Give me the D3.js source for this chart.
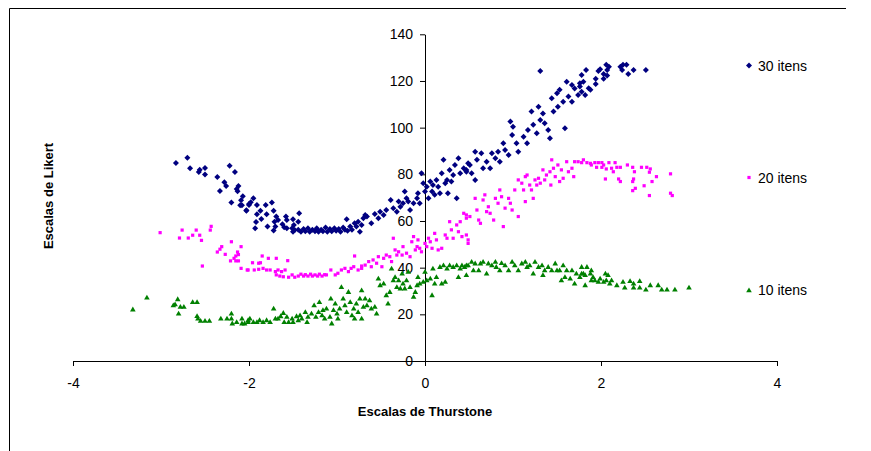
<!DOCTYPE html>
<html>
<head>
<meta charset="utf-8">
<script src="https://cdn.jsdelivr.net/npm/d3@7"></script>
<style>
  body { margin: 0; background: #fff; }
  svg { font-family: "Liberation Sans", Arial, sans-serif; }
</style>
</head>
<body>
<div id="chart"></div>
<script>
// values: [Thurstone, Likert]
const seriesNames = ["30 itens", "20 itens", "10 itens"]
const xTicks = [-4, -2, 0, 2, 4]
const yTicks = [0, 20, 40, 60, 80, 100, 120, 140]

const thirtyItens = [
  [-2.83,84.9],[-2.70,87.1],[-2.67,82.6],[-2.57,81.0],[-2.56,82.0],[-2.50,82.7],[-2.50,79.9],[-2.36,78.9],
  [-2.22,83.7],[-2.16,81.0],[-2.28,76.6],[-2.26,75.0],[-2.33,72.9],[-2.14,73.7],[-2.12,75.0],[-2.13,72.7],
  [-2.07,70.6],[-2.09,68.9],[-2.20,67.9],[-2.10,66.7],[-2.08,66.7],[-2.00,66.9],[-2.03,64.6],
  [-1.95,69.7],[-1.98,68.0],[-2.00,67.3],[-2.03,64.4],[-1.91,66.9],[-1.81,66.9],[-1.74,67.9],[-1.87,64.4],
  [-1.91,62.9],[-1.80,62.9],[-1.86,60.9],[-1.92,59.6],[-1.93,56.9],[-1.79,57.6],[-1.72,64.4],[-1.69,61.9],
  [-1.71,59.7],[-1.67,60.4],[-1.70,57.6],[-1.72,55.9],[-1.62,58.6],[-1.58,61.9],[-1.57,60.4],[-1.60,57.3],
  [-1.50,60.7],[-1.43,63.3],[-1.44,59.7],[-1.49,58.3],[-1.57,56.9],[-1.51,56.9],[-1.48,56.1],[-1.50,55.4],
  [-1.44,56.2],[-1.41,55.4],[-1.38,56.6],[-1.36,55.6],[-1.33,56.9],[-1.31,55.4],[-1.28,56.2],[-1.25,55.6],
  [-1.23,56.9],[-1.21,55.4],[-1.18,56.2],[-1.16,55.6],[-1.13,57.2],[-1.11,55.4],[-1.08,56.6],[-1.06,55.6],
  [-1.03,56.9],[-1.01,55.8],[-0.98,56.6],[-0.96,55.4],[-0.93,57.2],[-0.91,56.2],[-0.88,55.8],[-0.85,57.6],
  [-0.83,56.2],[-0.89,60.7],[-0.80,59.0],[-0.78,57.6],[-0.76,59.7],[-0.74,55.4],[-0.72,58.3],[-0.70,61.2],
  [-0.68,62.6],[-0.66,61.9],[-0.61,59.0],[-0.57,63.0],[-0.53,61.2],[-0.51,64.0],[-0.47,62.6],[-0.44,64.7],
  [-0.39,69.0],[-0.36,65.5],[-0.32,64.0],[-0.30,68.3],[-0.28,66.1],[-0.25,67.6],[-0.23,72.6],[-0.21,69.7],
  [-0.19,68.3],[-0.17,64.7],[-0.13,67.6],[-0.09,69.7],[-0.08,71.9],[-0.06,67.6],[-0.04,80.5],[-0.02,76.2],
  [0.00,72.6],[0.02,74.7],[0.04,69.7],[0.06,76.9],[0.08,72.6],[0.09,75.4],[0.11,71.2],[0.13,77.6],
  [0.15,74.7],[0.17,71.9],[0.19,80.5],[0.21,86.2],[0.23,76.2],[0.25,77.6],[0.26,71.9],[0.28,81.9],
  [0.30,76.9],[0.32,79.7],[0.34,84.0],[0.36,69.7],[0.38,86.9],[0.40,80.5],[0.44,82.6],[0.47,81.1],
  [0.49,84.7],[0.47,81.9],[0.51,84.0],[0.53,80.5],[0.57,77.6],[0.59,86.2],[0.57,89.7],[0.64,89.0],
  [0.66,82.6],[0.70,85.4],[0.74,82.6],[0.76,89.0],[0.80,86.9],[0.83,89.7],[0.85,85.4],[0.89,93.3],
  [0.91,90.4],[0.95,88.3],[0.97,102.6],[0.99,96.9],[1.00,100.4],[1.04,93.3],[1.06,89.7],[1.12,96.1],
  [1.16,93.3],[1.17,99.0],[1.21,106.9],[1.23,101.2],[1.27,97.6],[1.29,109.0],[1.31,103.3],[1.34,106.1],
  [1.36,101.9],[1.40,99.0],[1.42,95.5],[1.44,112.6],[1.46,106.9],[1.50,114.7],[1.51,109.0],[1.53,116.2],
  [1.57,111.1],[1.59,99.7],[1.61,119.7],[1.63,113.3],[1.67,111.1],[1.67,118.3],[1.70,116.8],[1.74,114.0],
  [1.76,119.0],[1.78,115.4],[1.31,124.3],[1.76,117.6],[1.78,122.6],[1.80,119.7],[1.82,114.0],[1.83,124.7],
  [1.86,116.9],[1.88,116.2],[1.94,120.9],[1.94,118.7],[1.97,124.3],[1.99,125.0],[2.03,123.0],[2.03,120.9],
  [2.06,126.9],[2.07,124.7],[2.07,122.3],[2.09,126.1],[2.22,126.1],[2.24,124.7],[2.25,126.9],[2.29,126.9],
  [2.31,123.0],[2.37,124.7],[2.51,124.7]
]

const twentyItens = [
  [-3.01,55.0],[-2.76,56.1],[-2.79,52.7],[-2.69,52.7],[-2.64,53.9],[-2.60,56.1],[-2.56,53.9],[-2.54,51.7],
  [-2.44,56.1],[-2.43,57.7],[-2.53,40.7],[-2.31,49.0],[-2.33,47.9],[-2.36,46.7],[-2.20,51.1],[-2.09,49.0],
  [-2.27,45.7],[-2.13,46.7],[-2.12,45.6],[-2.15,45.0],[-2.17,44.0],[-2.21,42.9],[-2.15,42.9],[-2.12,42.9],
  [-2.09,39.7],[-2.02,39.0],[-1.85,45.0],[-1.96,42.1],[-1.89,41.9],[-1.87,42.1],[-1.78,44.0],[-1.69,44.0],
  [-1.56,43.0],[-2.01,39.0],[-1.94,39.0],[-1.89,39.3],[-1.84,39.7],[-1.80,39.0],[-1.76,39.0],[-1.70,38.3],
  [-1.67,39.0],[-1.63,38.3],[-1.59,39.0],[-1.69,36.9],[-1.65,36.4],[-1.61,36.1],[-1.55,35.9],[-1.51,36.9],
  [-1.48,35.9],[-1.44,36.4],[-1.41,37.2],[-1.38,36.4],[-1.36,37.0],[-1.33,36.4],[-1.30,37.2],[-1.28,36.4],
  [-1.25,36.9],[-1.22,36.4],[-1.20,37.2],[-1.17,36.4],[-1.14,37.0],[-1.12,36.9],[-1.07,39.0],[-1.02,36.9],
  [-0.99,37.6],[-0.95,39.0],[-0.91,39.7],[-0.87,38.3],[-0.84,39.7],[-0.81,40.4],[-0.80,45.0],[-0.76,39.0],
  [-0.72,40.7],[-0.72,39.7],[-0.68,41.1],[-0.64,42.6],[-0.61,40.4],[-0.59,43.3],[-0.55,41.9],[-0.53,44.7],
  [-0.49,40.4],[-0.47,44.0],[-0.44,45.4],[-0.40,44.7],[-0.38,42.6],[-0.36,52.6],[-0.34,47.6],[-0.32,45.4],
  [-0.30,46.8],[-0.26,45.4],[-0.25,49.0],[-0.21,46.2],[-0.17,44.7],[-0.15,51.1],[-0.13,53.3],[-0.11,47.6],
  [-0.09,49.0],[-0.08,51.9],[-0.06,48.3],[-0.04,46.8],[0.00,50.4],[0.02,49.0],[0.04,52.6],[0.06,51.1],
  [0.08,48.3],[0.11,54.7],[0.13,51.9],[0.15,47.6],[0.19,48.3],[0.23,54.0],[0.25,52.6],[0.28,59.7],
  [0.30,56.2],[0.32,52.6],[0.36,58.3],[0.38,55.4],[0.40,59.7],[0.42,53.3],[0.44,63.3],[0.47,61.2],
  [0.49,51.9],[0.47,54.0],[0.49,50.4],[0.47,62.6],[0.51,61.9],[0.57,69.7],[0.59,64.7],[0.61,60.4],
  [0.63,59.0],[0.66,69.0],[0.68,71.2],[0.70,64.0],[0.72,66.1],[0.74,63.3],[0.78,60.4],[0.80,69.7],
  [0.83,67.6],[0.85,73.3],[0.87,70.4],[0.89,57.6],[0.91,65.5],[0.95,69.7],[0.97,67.6],[0.99,64.7],
  [1.02,73.3],[1.06,61.9],[1.06,77.6],[1.10,76.2],[1.12,73.3],[1.14,79.0],[1.14,68.3],[1.16,79.7],
  [1.19,75.4],[1.21,73.3],[1.23,69.7],[1.25,77.6],[1.27,75.4],[1.29,78.3],[1.31,76.2],[1.34,81.9],
  [1.36,77.6],[1.38,79.7],[1.42,81.1],[1.43,75.4],[1.44,86.2],[1.46,82.6],[1.48,79.0],[1.51,84.0],
  [1.53,76.9],[1.55,81.9],[1.57,78.3],[1.61,85.4],[1.63,81.1],[1.67,82.6],[1.69,79.0],[1.70,85.4],
  [1.74,85.4],[1.80,86.2],[1.78,85.0],[1.84,85.0],[1.88,84.7],[1.89,84.0],[1.93,85.0],[1.97,85.0],
  [2.01,85.0],[2.03,84.0],[1.95,83.0],[2.01,83.0],[2.06,82.3],[2.09,85.0],[2.12,82.6],[2.14,81.1],
  [2.16,85.0],[2.18,83.0],[2.22,83.0],[2.30,84.0],[2.36,83.0],[2.38,81.1],[2.05,78.0],[2.20,78.0],
  [2.22,76.9],[2.37,78.0],[2.36,76.9],[2.39,74.0],[2.36,73.0],[2.49,75.1],[2.46,83.0],[2.52,83.0],
  [2.56,82.3],[2.55,80.9],[2.58,76.9],[2.63,79.0],[2.55,70.9],[2.79,80.2],[2.79,71.9],[2.81,70.9]
]

const tenItens = [
  [-3.32,22.2],[-3.16,27.3],[-2.81,26.6],[-2.86,24.0],[-2.84,24.4],[-2.78,23.3],[-2.74,23.3],[-2.80,20.4],
  [-2.64,25.4],[-2.59,25.4],[-2.59,19.4],[-2.58,18.3],[-2.55,17.3],[-2.50,17.3],[-2.45,17.3],[-2.32,18.3],
  [-2.25,18.3],[-2.20,20.4],[-2.20,18.3],[-2.19,16.2],[-2.14,16.8],[-2.08,18.3],[-2.08,16.2],[-2.05,16.2],
  [-2.01,17.6],[-1.99,18.3],[-2.01,16.8],[-1.95,16.8],[-1.91,16.8],[-1.88,17.6],[-1.84,16.8],[-1.80,17.6],
  [-1.76,16.8],[-1.72,22.6],[-1.70,18.3],[-1.67,18.3],[-1.64,19.3],[-1.61,20.7],[-1.60,16.8],[-1.57,19.0],
  [-1.55,16.8],[-1.51,18.3],[-1.50,16.8],[-1.46,19.3],[-1.44,17.6],[-1.42,19.7],[-1.40,18.3],[-1.36,21.1],
  [-1.34,16.8],[-1.33,19.0],[-1.29,20.4],[-1.26,24.0],[-1.24,19.0],[-1.21,21.1],[-1.20,25.4],[-1.17,19.7],
  [-1.16,21.9],[-1.14,18.3],[-1.12,22.6],[-1.08,19.0],[-1.07,26.9],[-1.06,16.2],[-1.04,21.9],[-1.02,24.7],
  [-1.00,20.4],[-0.99,18.3],[-0.97,22.6],[-0.95,31.8],[-0.93,26.9],[-0.91,24.0],[-0.89,21.1],[-0.87,29.7],
  [-0.85,25.4],[-0.83,19.7],[-0.81,22.6],[-0.80,18.3],[-0.78,24.7],[-0.76,21.1],[-0.74,26.9],[-0.72,18.3],
  [-0.70,23.3],[-0.72,30.4],[-0.68,26.9],[-0.66,24.0],[-0.63,26.1],[-0.61,22.6],[-0.57,23.3],[-0.55,20.4],
  [-0.53,35.4],[-0.51,32.6],[-0.47,33.3],[-0.44,28.3],[-0.42,24.7],[-0.40,29.7],[-0.38,39.7],[-0.36,34.7],
  [-0.34,36.1],[-0.32,31.8],[-0.30,34.7],[-0.28,31.2],[-0.26,37.6],[-0.25,33.3],[-0.23,31.2],[-0.21,34.7],
  [-0.19,38.3],[-0.17,31.8],[-0.13,27.6],[-0.11,29.7],[-0.09,32.6],[-0.08,36.1],[-0.06,33.3],[-0.02,34.0],
  [0.00,38.3],[0.02,34.7],[0.06,35.4],[0.08,28.3],[0.09,39.7],[0.11,33.3],[0.13,36.1],[0.17,40.4],
  [0.19,33.3],[0.21,41.1],[0.23,34.0],[0.25,39.7],[0.28,41.1],[0.32,40.4],[0.36,41.1],[0.38,36.1],
  [0.40,39.7],[0.42,41.1],[0.45,40.4],[0.47,41.1],[0.47,36.9],[0.49,41.1],[0.53,42.6],[0.55,39.0],
  [0.57,41.9],[0.61,39.0],[0.63,41.9],[0.66,42.6],[0.70,37.6],[0.72,41.9],[0.76,41.1],[0.80,42.6],
  [0.81,40.4],[0.85,39.0],[0.87,42.1],[0.91,41.1],[0.95,39.0],[0.99,42.6],[1.02,41.1],[1.06,39.0],
  [1.10,41.9],[1.14,42.6],[1.16,40.4],[1.19,41.1],[1.23,37.6],[1.25,42.6],[1.29,40.4],[1.33,41.1],
  [1.34,36.9],[1.36,39.0],[1.40,40.4],[1.44,39.0],[1.48,41.9],[1.50,39.0],[1.53,39.0],[1.55,34.7],
  [1.57,41.1],[1.59,36.1],[1.61,39.0],[1.65,35.4],[1.67,39.0],[1.70,33.3],[1.72,37.6],[1.76,36.1],
  [1.80,37.6],[1.78,40.4],[1.84,40.4],[1.78,37.6],[1.82,36.9],[1.89,39.0],[1.88,37.6],[1.91,36.1],
  [1.89,34.7],[1.93,34.7],[1.82,32.6],[1.97,34.0],[1.99,35.4],[2.03,34.0],[2.05,37.6],[2.06,34.7],
  [2.08,36.9],[2.10,33.3],[2.12,34.7],[2.18,32.6],[2.25,34.0],[2.27,31.6],[2.33,34.4],[2.37,33.3],
  [2.37,31.6],[2.44,34.4],[2.44,31.6],[2.51,30.7],[2.56,32.6],[2.65,32.6],[2.69,30.7],[2.75,30.7],
  [2.84,30.7],[3.00,31.6]
]

const w = 871
const h = 451

const xScale = d3.scaleLinear().domain([-4, 4]).range([73, 777])
const yScale = d3.scaleLinear().domain([0, 140]).range([361, 34.3])

const svg = d3.select("#chart")
              .append("svg")
              .attr("width", w)
              .attr("height", h)

// chart area border (only top and left visible in the crop)
svg.append("path")
   .attr("d", "M9.5,451V8.5H846")
   .attr("fill", "none")
   .attr("stroke", "#000")

const markers = [
  { name: seriesNames[0], data: thirtyItens, color: "#000080", shape: "M0,-3L3,0L0,3L-3,0Z" },
  { name: seriesNames[1], data: twentyItens, color: "#ff00ff", shape: "M-1.6,-1.6H1.6V1.6H-1.6Z" },
  { name: seriesNames[2], data: tenItens, color: "#008000", shape: "M0,-2.6L2.8,2.2H-2.8Z" }
]

// axes - plain hyphen minus like the original
const xAxis = d3.axisBottom(xScale).tickValues(xTicks).tickFormat(d => String(d))
                .tickSize(5).tickSizeOuter(0).tickPadding(12)
const yAxis = d3.axisLeft(yScale).tickValues(yTicks).tickFormat(d => String(d))
                .tickSize(5).tickSizeOuter(0).tickPadding(7)

const gx = svg.append("g")
   .attr("transform", "translate(0," + yScale(0) + ")")
   .call(xAxis)
const gy = svg.append("g")
   .attr("transform", "translate(" + xScale(0) + ",0)")
   .call(yAxis)

;[gx, gy].forEach(g => {
  g.selectAll("path, line").attr("stroke", "#000")
  g.selectAll("text")
   .attr("fill", "#000")
   .style("font-size", "14px")
   .style("font-family", "'Liberation Sans', Arial, sans-serif")
})

// points
markers.forEach(s => {
  svg.append("g")
     .selectAll("path")
     .data(s.data)
     .enter()
     .append("path")
     .attr("d", s.shape)
     .attr("fill", s.color)
     .attr("transform", d => "translate(" + xScale(d[0]) + "," + yScale(d[1]) + ")")
})

// legend
const legendY = [65.5, 177.5, 290]
markers.forEach((s, i) => {
  svg.append("path")
     .attr("d", s.shape)
     .attr("fill", s.color)
     .attr("transform", "translate(749," + legendY[i] + ")")
  svg.append("text")
     .attr("x", 758)
     .attr("y", legendY[i] + 5)
     .style("font-size", "14px")
     .text(s.name)
})

// axis titles
svg.append("text")
   .attr("x", 425)
   .attr("y", 416)
   .attr("text-anchor", "middle")
   .style("font-size", "13px")
   .style("font-weight", "bold")
   .text("Escalas de Thurstone")

svg.append("text")
   .attr("transform", "translate(53,196) rotate(-90)")
   .attr("text-anchor", "middle")
   .style("font-size", "13px")
   .style("font-weight", "bold")
   .text("Escalas de Likert")
</script>
</body>
</html>
